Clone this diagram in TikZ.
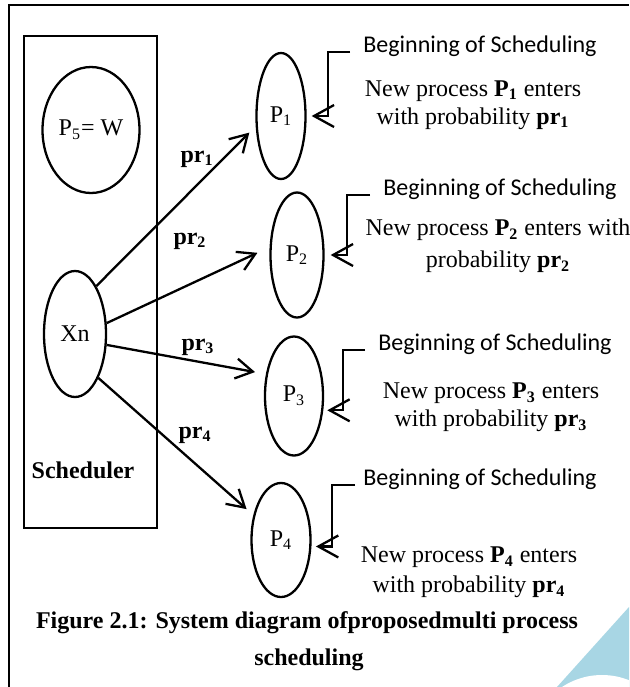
\documentclass[tikz,border=0pt]{standalone}
\usepackage{fontspec}
\setmainfont{Liberation Serif}
\newfontfamily\calibrifont{Carlito}
\usetikzlibrary{shapes.geometric,arrows.meta}
\definecolor{wmblue}{RGB}{168,214,228}
\begin{document}
\begin{tikzpicture}[x=0.5pt,y=-0.5pt,
  ell/.style={draw, ellipse, line width=1.15pt, inner sep=0pt, font=\fontsize{12}{14}\selectfont},
  arr/.style={line width=1.15pt, -{Straight Barb[length=8.5pt,width=10pt]}},
  callout/.style={line width=1.15pt, -{Straight Barb[length=10pt,width=11pt]}},
  lbl/.style={font=\bfseries\fontsize{12}{14}\selectfont, inner sep=0pt},
  beg/.style={font=\calibrifont\fontsize{12}{14}\selectfont, inner sep=0pt, anchor=base west},
  desc/.style={font=\fontsize{12}{14}\selectfont, align=center, inner sep=0pt}]
\fill[white] (0,0) rectangle (629,687);
\useasboundingbox (0,0) rectangle (629,687);
% watermark fragment
\begin{scope}
\clip (0,0) rectangle (629,687);
\fill[wmblue] (629,607) -- (557,687) -- (629,687) -- cycle;
\fill[white] (602,747.5) circle[radius=36.25pt];
\end{scope}
% frame
\draw[line width=1.3pt] (9,687) -- (9,5) -- (629,5);
% scheduler box
\node[draw, line width=0.8pt, minimum width=66.5pt, minimum height=246pt, inner sep=0pt] (sched) at (90.5,282) {};
\node[lbl] (schedlbl) at (83,470) {Scheduler};
% ellipses
\node[ell, minimum width=48.5pt, minimum height=63pt] (P5) at (91,130) {P\textsubscript{5}= W};
\node[ell, minimum width=31pt, minimum height=63pt] (Xn) at (75,334) {Xn};
\node[ell, minimum width=24.5pt, minimum height=63pt] (P1) at (281,116) {P\textsubscript{1}};
\node[ell, minimum width=26.5pt, minimum height=62.5pt] (P2) at (297,255) {P\textsubscript{2}};
\node[ell, minimum width=29pt, minimum height=59.5pt] (P3) at (294,396) {P\textsubscript{3}};
\node[ell, minimum width=29.5pt, minimum height=57pt] (P4) at (281,540) {P\textsubscript{4}};
% arrows from Xn
\draw[arr, shorten >=4.5pt] (Xn.66) -- (P1.202);
\draw[arr, shorten >=6.7pt] (Xn.19) -- (P2.164);
\draw[arr, shorten >=5.5pt] (Xn.-19) -- (P3.142);
\draw[arr, shorten >=4.5pt] (Xn.-62) -- (P4.138);
% probability labels
\node[lbl] (l1) at (197,159) {pr\textsubscript{1}};
\node[lbl] (l2) at (190,241) {pr\textsubscript{2}};
\node[lbl] (l3) at (198,347) {pr\textsubscript{3}};
\node[lbl] (l4) at (195,435) {pr\textsubscript{4}};
% beginning labels
\node[beg] (B1) at (363,52) {Beginning of Scheduling};
\node[beg] (B2) at (383,195) {Beginning of Scheduling};
\node[beg] (B3) at (378,350) {Beginning of Scheduling};
\node[beg] (B4) at (363,485) {Beginning of Scheduling};
% callout brackets
\draw[callout] ([xshift=-6.5pt]B1.base west) -- ++(-22,0) |- ([xshift=2.5pt]P1.east);
\draw[callout] ([xshift=-6.5pt]B2.base west) -- ++(-23,0) |- ([xshift=3pt]P2.east);
\draw[callout] ([xshift=-6.5pt]B3.base west) -- ++(-22,0) |- ([xshift=2pt]P3.-26);
\draw[callout] ([xshift=-4pt]B4.base west) -- ++(-23,0) |- ([xshift=2.25pt]P4.-12);
% descriptions
\node[desc] (T1) at (473,105) {New process \textbf{P\textsubscript{1}} enters\\with probability \textbf{pr\textsubscript{1}}};
\node[desc] (T2) at (498,246) {New process \textbf{P\textsubscript{2}} enters with\\[2pt]probability \textbf{pr\textsubscript{2}}};
\node[desc] (T3) at (491,407.5) {New process \textbf{P\textsubscript{3}} enters\\with probability \textbf{pr\textsubscript{3}}};
\node[desc] (T4) at (469,572.5) {New process \textbf{P\textsubscript{4}} enters\\[1pt]with probability \textbf{pr\textsubscript{4}}};
% caption
\node[lbl] (cap1) at (307,623) {Figure 2.1: System diagram ofproposedmulti process};
\node[lbl] (cap2) at (309,660) {scheduling};
\end{tikzpicture}
\end{document}
